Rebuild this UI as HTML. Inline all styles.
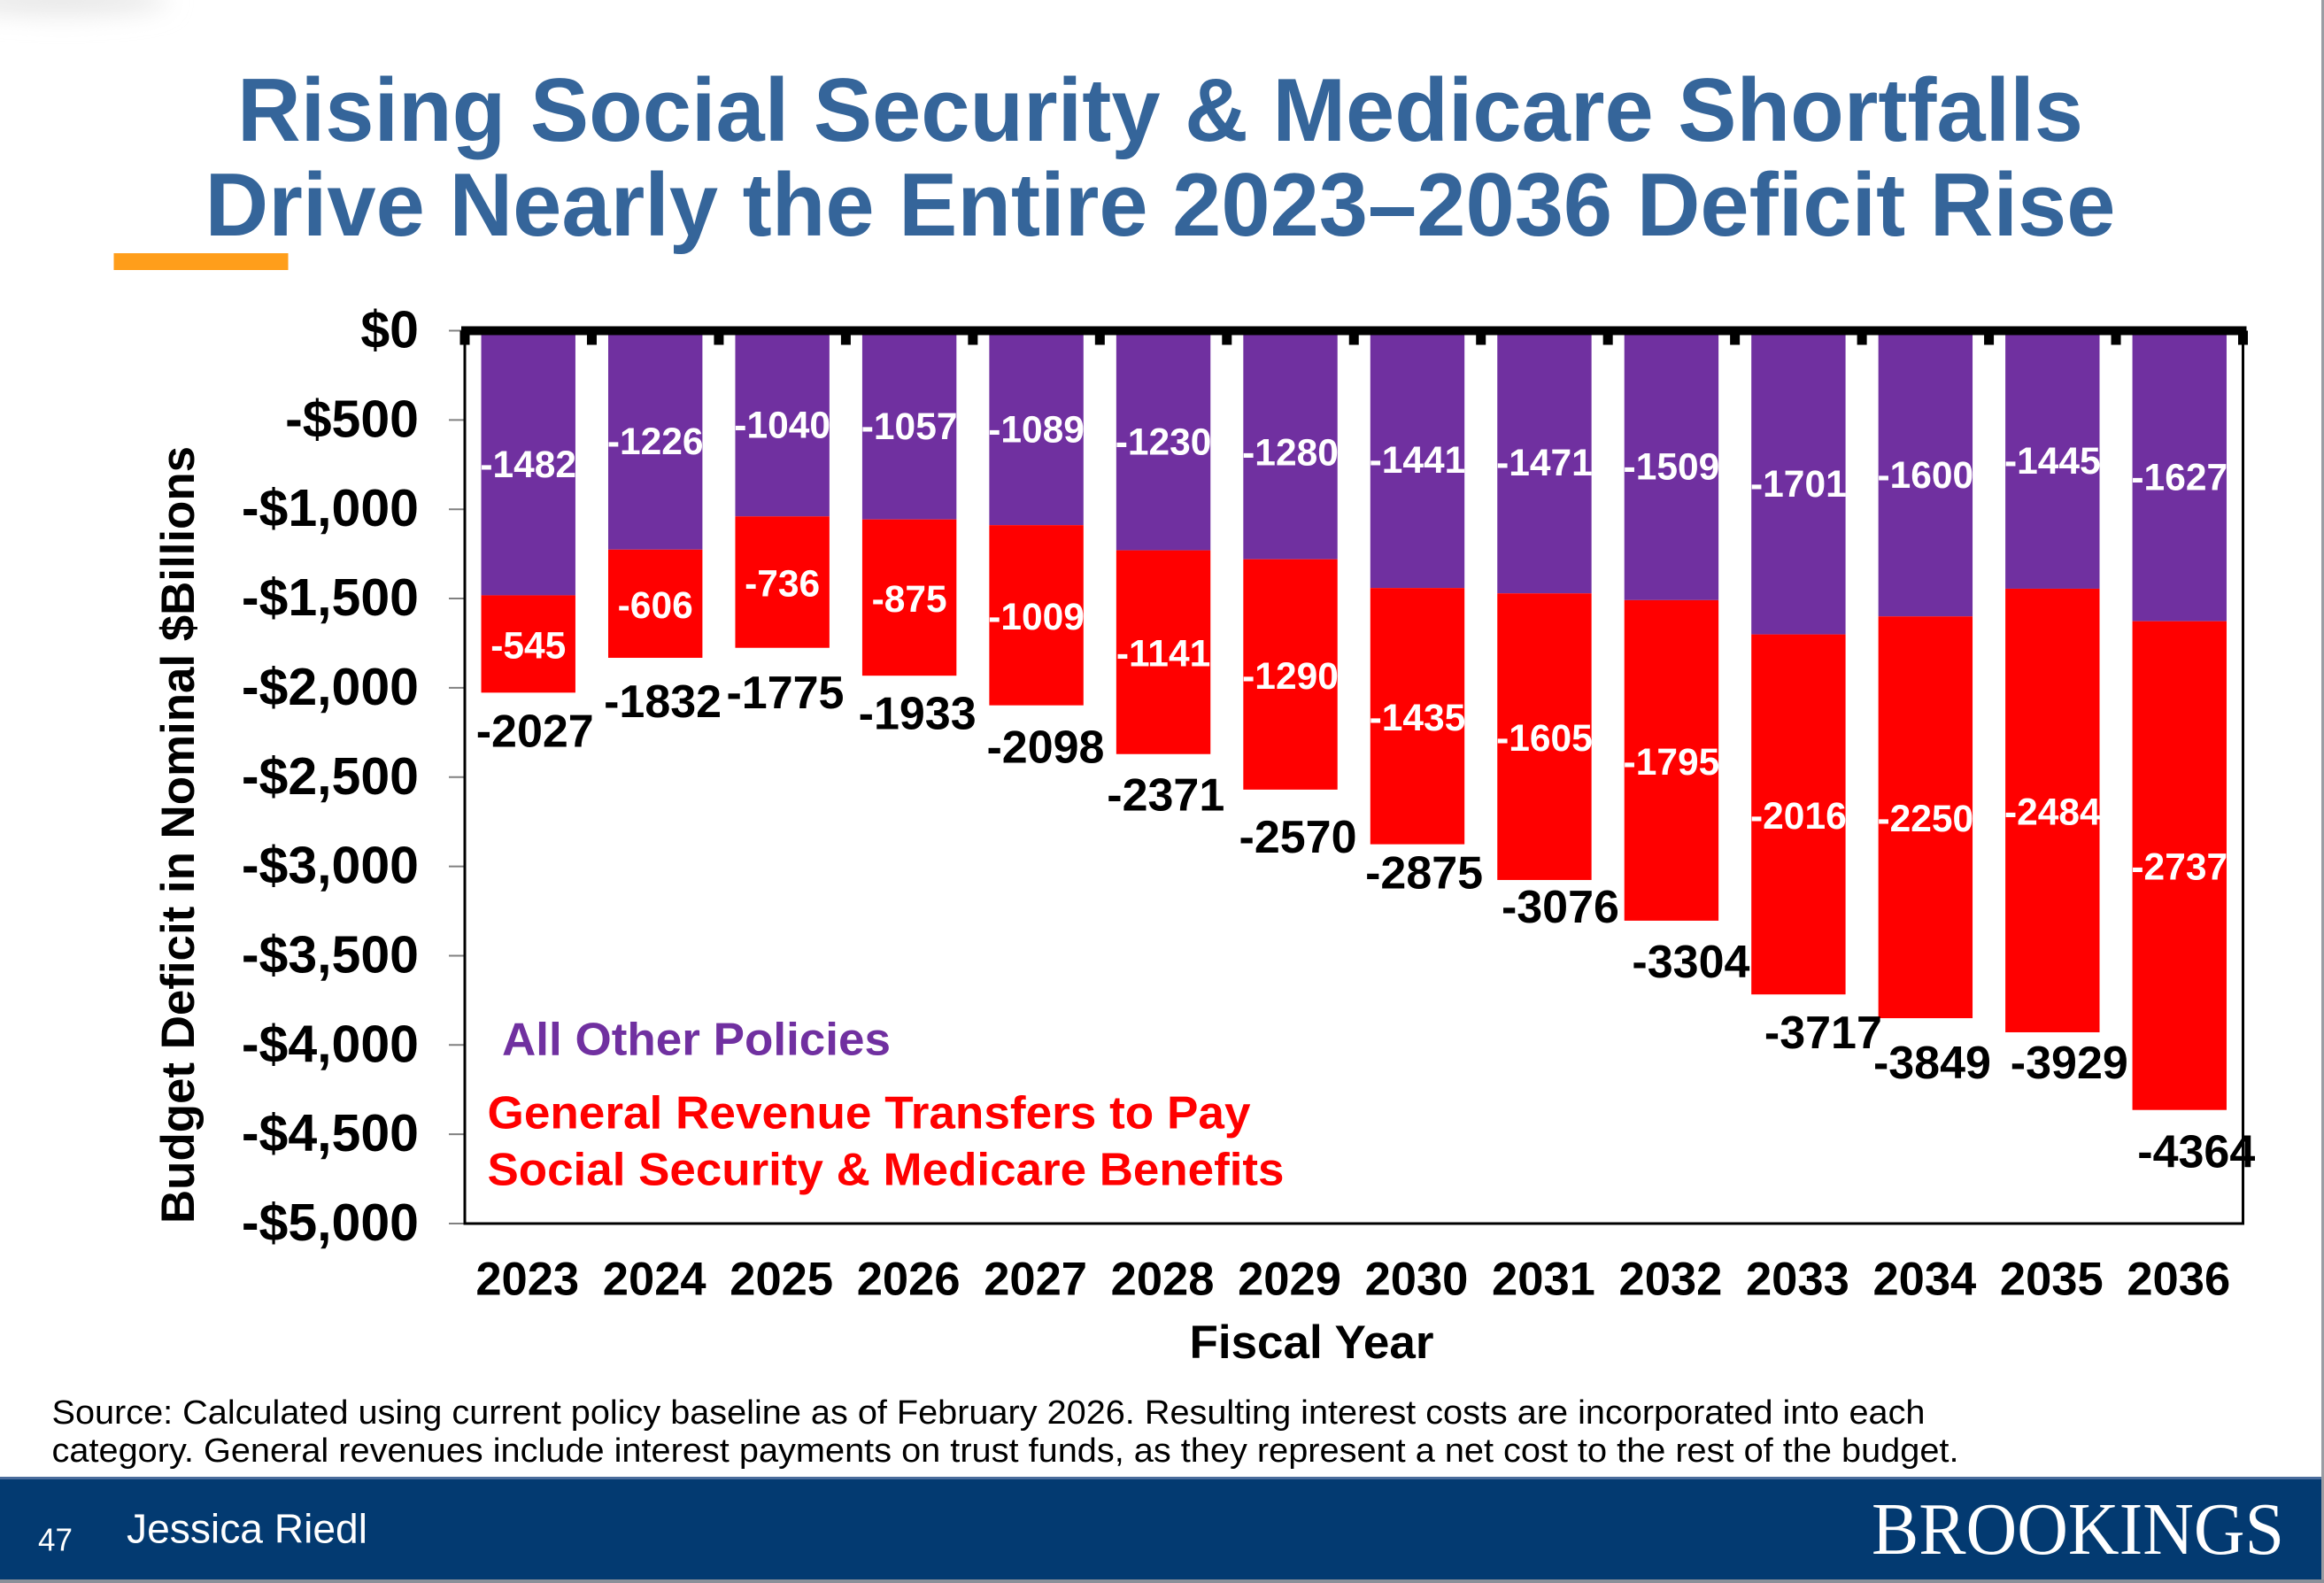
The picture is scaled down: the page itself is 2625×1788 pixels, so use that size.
<!DOCTYPE html>
<html lang="en">
<head>
<meta charset="utf-8">
<title>Rising Social Security &amp; Medicare Shortfalls</title>
<style>
html,body{margin:0;padding:0;background:#fff;width:2625px;height:1788px;overflow:hidden}
svg{display:block;font-family:"Liberation Sans",Arial,sans-serif}
text{font-weight:700}
.reg{font-weight:400}
</style>
</head>
<body>
<svg id="slide" xmlns="http://www.w3.org/2000/svg" width="2625" height="1788" viewBox="0 0 2625 1788">
  <defs><filter id="soft" x="-50%" y="-200%" width="200%" height="500%"><feGaussianBlur stdDeviation="14"/></filter></defs>
  <rect width="2625" height="1788" fill="#ffffff"/>
  <ellipse cx="70" cy="0" rx="120" ry="16" fill="#e6e6e6" filter="url(#soft)"/>
  <g fill="#35659a" font-size="101">
    <text x="268" y="159" textLength="2085" lengthAdjust="spacingAndGlyphs">Rising Social Security &amp; Medicare Shortfalls</text>
    <text x="231.5" y="266" textLength="2158" lengthAdjust="spacingAndGlyphs">Drive Nearly the Entire 2023–2036 Deficit Rise</text>
  </g>
  <rect x="128.5" y="286" width="197" height="19" fill="#ff9e1b"/>
  <g id="chart"></g>
  <text transform="translate(219 1382) rotate(-90)" font-size="53" textLength="878" lengthAdjust="spacingAndGlyphs" fill="#000">Budget Deficit in Nominal $Billions</text>
  <text x="1481.5" y="1534" font-size="53" text-anchor="middle" fill="#000">Fiscal Year</text>
  <g>
    <text x="567" y="1191.5" font-size="52" textLength="439" lengthAdjust="spacingAndGlyphs" fill="#7030a0">All Other Policies</text>
    <text x="550.5" y="1274.5" font-size="52" textLength="862" lengthAdjust="spacingAndGlyphs" fill="#ff0000">General Revenue Transfers to Pay</text>
    <text x="550.5" y="1338.5" font-size="52" textLength="900" lengthAdjust="spacingAndGlyphs" fill="#ff0000">Social Security &amp; Medicare Benefits</text>
  </g>
  <g fill="#000" font-size="38">
    <text class="reg" x="58.5" y="1608" textLength="2116" lengthAdjust="spacingAndGlyphs">Source: Calculated using current policy baseline as of February 2026. Resulting interest costs are incorporated into each</text>
    <text class="reg" x="58.5" y="1651" textLength="2154" lengthAdjust="spacingAndGlyphs">category. General revenues include interest payments on trust funds, as they represent a net cost to the rest of the budget.</text>
  </g>
  <g>
    <rect x="2622" y="0" width="3" height="1788" fill="#9a9da3"/>
    <rect x="0" y="1784" width="2625" height="4" fill="#8b9099"/>
    <rect x="0" y="1668" width="2622" height="116" fill="#033a71"/>
    <rect x="0" y="1668" width="2622" height="3" fill="#4a6c9c"/>
    <text class="reg" x="43" y="1751.5" font-size="36" textLength="39" lengthAdjust="spacingAndGlyphs" fill="#fff">47</text>
    <text class="reg" x="143" y="1742.5" font-size="46" textLength="272" lengthAdjust="spacingAndGlyphs" fill="#fff">Jessica Riedl</text>
    <text class="reg" x="2114" y="1755" font-size="84" textLength="466" lengthAdjust="spacingAndGlyphs" fill="#fff" style="font-family:'Liberation Serif',serif">BROOKINGS</text>
  </g>
</svg>
<script>
const years = [2023,2024,2025,2026,2027,2028,2029,2030,2031,2032,2033,2034,2035,2036];
const otherPolicies = [-1482,-1226,-1040,-1057,-1089,-1230,-1280,-1441,-1471,-1509,-1701,-1600,-1445,-1627];
const generalRevenue = [-545,-606,-736,-875,-1009,-1141,-1290,-1435,-1605,-1795,-2016,-2250,-2484,-2737];
const totals = [-2027,-1832,-1775,-1933,-2098,-2371,-2570,-2875,-3076,-3304,-3717,-3849,-3929,-4364];
const yTicks = [0,-500,-1000,-1500,-2000,-2500,-3000,-3500,-4000,-4500,-5000];

// Hand-placed nudges of the total labels, as on the original slide (relative to each bar's end).
const totalLabelNudgeX = [7.5,8.4,3.3,9,10.4,2.7,8.5,7.6,18,22,28,7.6,19,19];
const totalLabelNudgeY = [61,67,68.5,60,65,64,71,50,48,64,61,68,52,65];
const otherLabelNudgeY = [0,0,0,0,0,0,7,-1,-1,0,0,0,0,0];

const SVGNS = 'http://www.w3.org/2000/svg';
const chart = document.getElementById('chart');
const plotLeft = 525, plotRight = 2533.5, plotTop = 373.5, plotBottom = 1382;
const barWidth = 106.4;
const band = (plotRight - plotLeft) / years.length;
const xScale = i => plotLeft + band * (i + 0.5);
const yScale = v => plotTop + (0 - v) / 5000 * (plotBottom - plotTop);
const fmtTick = v => (v < 0 ? '-' : '') + '$' + Math.abs(v).toLocaleString('en-US');

function make(tag, attrs, text, parent) {
  const el = document.createElementNS(SVGNS, tag);
  for (const k in attrs) el.setAttribute(k, attrs[k]);
  if (text !== undefined) el.textContent = text;
  (parent || chart).appendChild(el);
  return el;
}

// y-axis ticks and labels
yTicks.forEach(v => {
  const tick = make('line', {x1: plotLeft - 18, x2: plotLeft, y1: yScale(v), y2: yScale(v), stroke: '#808080', 'stroke-width': 2});
  
  
  const label = make('text', {x: 473, y: yScale(v) + 19, 'text-anchor': 'end', 'font-size': 59, fill: '#000'}, fmtTick(v));
  
  
});

// stacked bars
years.forEach((yr, i) => {
  const cx = xScale(i);
  const y0 = yScale(0);
  const y1 = yScale(otherPolicies[i]);
  const y2 = yScale(otherPolicies[i] + generalRevenue[i]);
  const purple = make('rect', {x: cx - barWidth / 2, y: y0, width: barWidth, height: y1 - y0, fill: '#7030a0'});
  
  
  const red = make('rect', {x: cx - barWidth / 2, y: y1, width: barWidth, height: y2 - y1, fill: '#ff0000'});
  
  
});

// plot frame
const frame = make('path', {d: `M${plotLeft} ${plotTop}V${plotBottom}H${plotRight}V${plotTop}`, fill: 'none', stroke: '#000', 'stroke-width': 3});


const zeroLine = make('rect', {x: plotLeft - 4, y: plotTop - 5, width: plotRight - plotLeft + 8, height: 10, fill: '#000'});


for (let i = 0; i <= years.length; i++) {
  const cat = make('rect', {x: plotLeft + band * i - 5.5, y: plotTop, width: 11, height: 16, fill: '#000'});
  
  
}

// labels
years.forEach((yr, i) => {
  const cx = xScale(i);
  const midOther = yScale(otherPolicies[i] / 2) + otherLabelNudgeY[i];
  const midRev = yScale(otherPolicies[i] + generalRevenue[i] / 2);
  const a = make('text', {x: cx, y: midOther + 16, 'text-anchor': 'middle', 'font-size': 42.5, fill: '#fff'}, String(otherPolicies[i]));
  
  
  const b = make('text', {x: cx, y: midRev + 16, 'text-anchor': 'middle', 'font-size': 42.5, fill: '#fff'}, String(generalRevenue[i]));
  
  
  const t = make('text', {x: cx + totalLabelNudgeX[i], y: yScale(totals[i]) + totalLabelNudgeY[i], 'text-anchor': 'middle', 'font-size': 52, fill: '#000'}, String(totals[i]));
  
  
  const yl = make('text', {x: cx - 1, y: 1462.5, 'text-anchor': 'middle', 'font-size': 52.5, fill: '#000'}, String(yr));
  
  
});
</script>
</body>
</html>
